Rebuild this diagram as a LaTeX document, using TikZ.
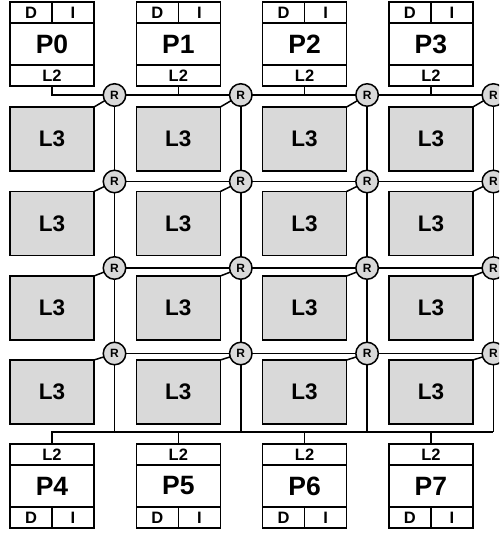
\documentclass[tikz,border=0pt]{standalone}
\usepackage{fontspec}
\setmainfont{Liberation Sans}
\usepackage{tikz}
\usetikzlibrary{calc}
\definecolor{cachegray}{HTML}{D9D9D9}

\begin{document}
\begin{tikzpicture}[x=1pt,y=-1pt,line width=1.5pt,
  every node/.style={inner sep=0pt,outer sep=0pt},
  half/.style={draw,minimum width=42,minimum height=21,font=\bfseries\fontsize{16.5}{16.5}\selectfont},
  l2/.style={draw,minimum width=84,minimum height=21,font=\bfseries\fontsize{16.5}{16.5}\selectfont},
  cpu/.style={draw,minimum width=84,minimum height=42,font=\bfseries\fontsize{26.5}{26.5}\selectfont},
  l3/.style={draw,fill=cachegray,minimum width=84,minimum height=64,font=\bfseries\fontsize{22.5}{22.5}\selectfont},
  router/.style={draw,circle,fill=cachegray,minimum size=22.5,font=\bfseries\fontsize{12}{12}\selectfont}]
\path[use as bounding box,clip] (0,0) rectangle (499,533);
\def\dx{126.3}
\coordinate (A) at (52,0);
\coordinate (B) at ($(A)+(\dx,0)$);
\coordinate (C) at ($(B)+(\dx,0)$);
\coordinate (D) at ($(C)+(\dx,0)$);
\coordinate (E) at ($(D)+(62.5,432)$);

\node[cpu] (p0) at ($(A)+(0,44)$) {P0};\node[half] (d0) at ($(p0.north)+(-21,-10.5)$) {D};\node[half] (i0) at ($(p0.north)+(21,-10.5)$) {I};\node[l2] (t0) at ($(p0.south)+(0,10.5)$) {L2};
\node[cpu] (p1) at ($(B)+(0,44)$) {P1};\node[half] (d1) at ($(p1.north)+(-21,-10.5)$) {D};\node[half] (i1) at ($(p1.north)+(21,-10.5)$) {I};\node[l2] (t1) at ($(p1.south)+(0,10.5)$) {L2};
\node[cpu] (p2) at ($(C)+(0,44)$) {P2};\node[half] (d2) at ($(p2.north)+(-21,-10.5)$) {D};\node[half] (i2) at ($(p2.north)+(21,-10.5)$) {I};\node[l2] (t2) at ($(p2.south)+(0,10.5)$) {L2};
\node[cpu] (p3) at ($(D)+(0,44)$) {P3};\node[half] (d3) at ($(p3.north)+(-21,-10.5)$) {D};\node[half] (i3) at ($(p3.north)+(21,-10.5)$) {I};\node[l2] (t3) at ($(p3.south)+(0,10.5)$) {L2};

\node[cpu] (p4) at ($(A)+(0,486)$) {P4};\node[l2] (b4) at ($(p4.north)+(0,-10.5)$) {L2};\node[half] (d4) at ($(p4.south)+(-21,10.5)$) {D};\node[half] (i4) at ($(p4.south)+(21,10.5)$) {I};
\node[cpu] (p5) at ($(B)+(0,486)$) {P5};\node[l2] (b5) at ($(p5.north)+(0,-10.5)$) {L2};\node[half] (d5) at ($(p5.south)+(-21,10.5)$) {D};\node[half] (i5) at ($(p5.south)+(21,10.5)$) {I};
\node[cpu] (p6) at ($(C)+(0,486)$) {P6};\node[l2] (b6) at ($(p6.north)+(0,-10.5)$) {L2};\node[half] (d6) at ($(p6.south)+(-21,10.5)$) {D};\node[half] (i6) at ($(p6.south)+(21,10.5)$) {I};
\node[cpu] (p7) at ($(D)+(0,486)$) {P7};\node[l2] (b7) at ($(p7.north)+(0,-10.5)$) {L2};\node[half] (d7) at ($(p7.south)+(-21,10.5)$) {D};\node[half] (i7) at ($(p7.south)+(21,10.5)$) {I};

\node[l3] (c00) at ($(A)+(0,139)$) {L3};\node[l3] (c01) at ($(B)+(0,139)$) {L3};\node[l3] (c02) at ($(C)+(0,139)$) {L3};\node[l3] (c03) at ($(D)+(0,139)$) {L3};
\node[l3] (c10) at ($(A)+(0,223.5)$) {L3};\node[l3] (c11) at ($(B)+(0,223.5)$) {L3};\node[l3] (c12) at ($(C)+(0,223.5)$) {L3};\node[l3] (c13) at ($(D)+(0,223.5)$) {L3};
\node[l3] (c20) at ($(A)+(0,308)$) {L3};\node[l3] (c21) at ($(B)+(0,308)$) {L3};\node[l3] (c22) at ($(C)+(0,308)$) {L3};\node[l3] (c23) at ($(D)+(0,308)$) {L3};
\node[l3] (c30) at ($(A)+(0,392)$) {L3};\node[l3] (c31) at ($(B)+(0,392)$) {L3};\node[l3] (c32) at ($(C)+(0,392)$) {L3};\node[l3] (c33) at ($(D)+(0,392)$) {L3};

\node[router] (r00) at ($(A)+(62.5,95)$) {R};\node[router] (r01) at ($(B)+(62.5,95)$) {R};\node[router] (r02) at ($(C)+(62.5,95)$) {R};\node[router] (r03) at ($(D)+(62.5,95)$) {R};
\node[router] (r10) at ($(A)+(62.5,181.5)$) {R};\node[router] (r11) at ($(B)+(62.5,181.5)$) {R};\node[router] (r12) at ($(C)+(62.5,181.5)$) {R};\node[router] (r13) at ($(D)+(62.5,181.5)$) {R};
\node[router] (r20) at ($(A)+(62.5,268)$) {R};\node[router] (r21) at ($(B)+(62.5,268)$) {R};\node[router] (r22) at ($(C)+(62.5,268)$) {R};\node[router] (r23) at ($(D)+(62.5,268)$) {R};
\node[router] (r30) at ($(A)+(62.5,353.5)$) {R};\node[router] (r31) at ($(B)+(62.5,353.5)$) {R};\node[router] (r32) at ($(C)+(62.5,353.5)$) {R};\node[router] (r33) at ($(D)+(62.5,353.5)$) {R};

\draw (t0.south) |- (r00.west);
\draw (t1.south) -- (t1.south |- r00) (t2.south) -- (t2.south |- r00) (t3.south) -- (t3.south |- r00);
\draw (r00) -- (r01) -- (r02) -- (r03) (r10) -- (r11) -- (r12) -- (r13) (r20) -- (r21) -- (r22) -- (r23) (r30) -- (r31) -- (r32) -- (r33);
\draw (r00) -- (r10) -- (r20) -- (r30) -- (r30 |- E) (r01) -- (r11) -- (r21) -- (r31) -- (r31 |- E);
\draw (r02) -- (r12) -- (r22) -- (r32) -- (r32 |- E) (r03) -- (r13) -- (r23) -- (r33) -- (E);
\draw (c00.north east) -- (r00) (c01.north east) -- (r01) (c02.north east) -- (r02) (c03.north east) -- (r03);
\draw (c10.north east) -- (r10) (c11.north east) -- (r11) (c12.north east) -- (r12) (c13.north east) -- (r13);
\draw (c20.north east) -- (r20) (c21.north east) -- (r21) (c22.north east) -- (r22) (c23.north east) -- (r23);
\draw (c30.north east) -- (r30) (c31.north east) -- (r31) (c32.north east) -- (r32) (c33.north east) -- (r33);
\draw (b4.north) |- (E);
\draw (b5.north) -- (b5.north |- E) (b6.north) -- (b6.north |- E) (b7.north) -- (b7.north |- E);

\end{tikzpicture}
\end{document}
